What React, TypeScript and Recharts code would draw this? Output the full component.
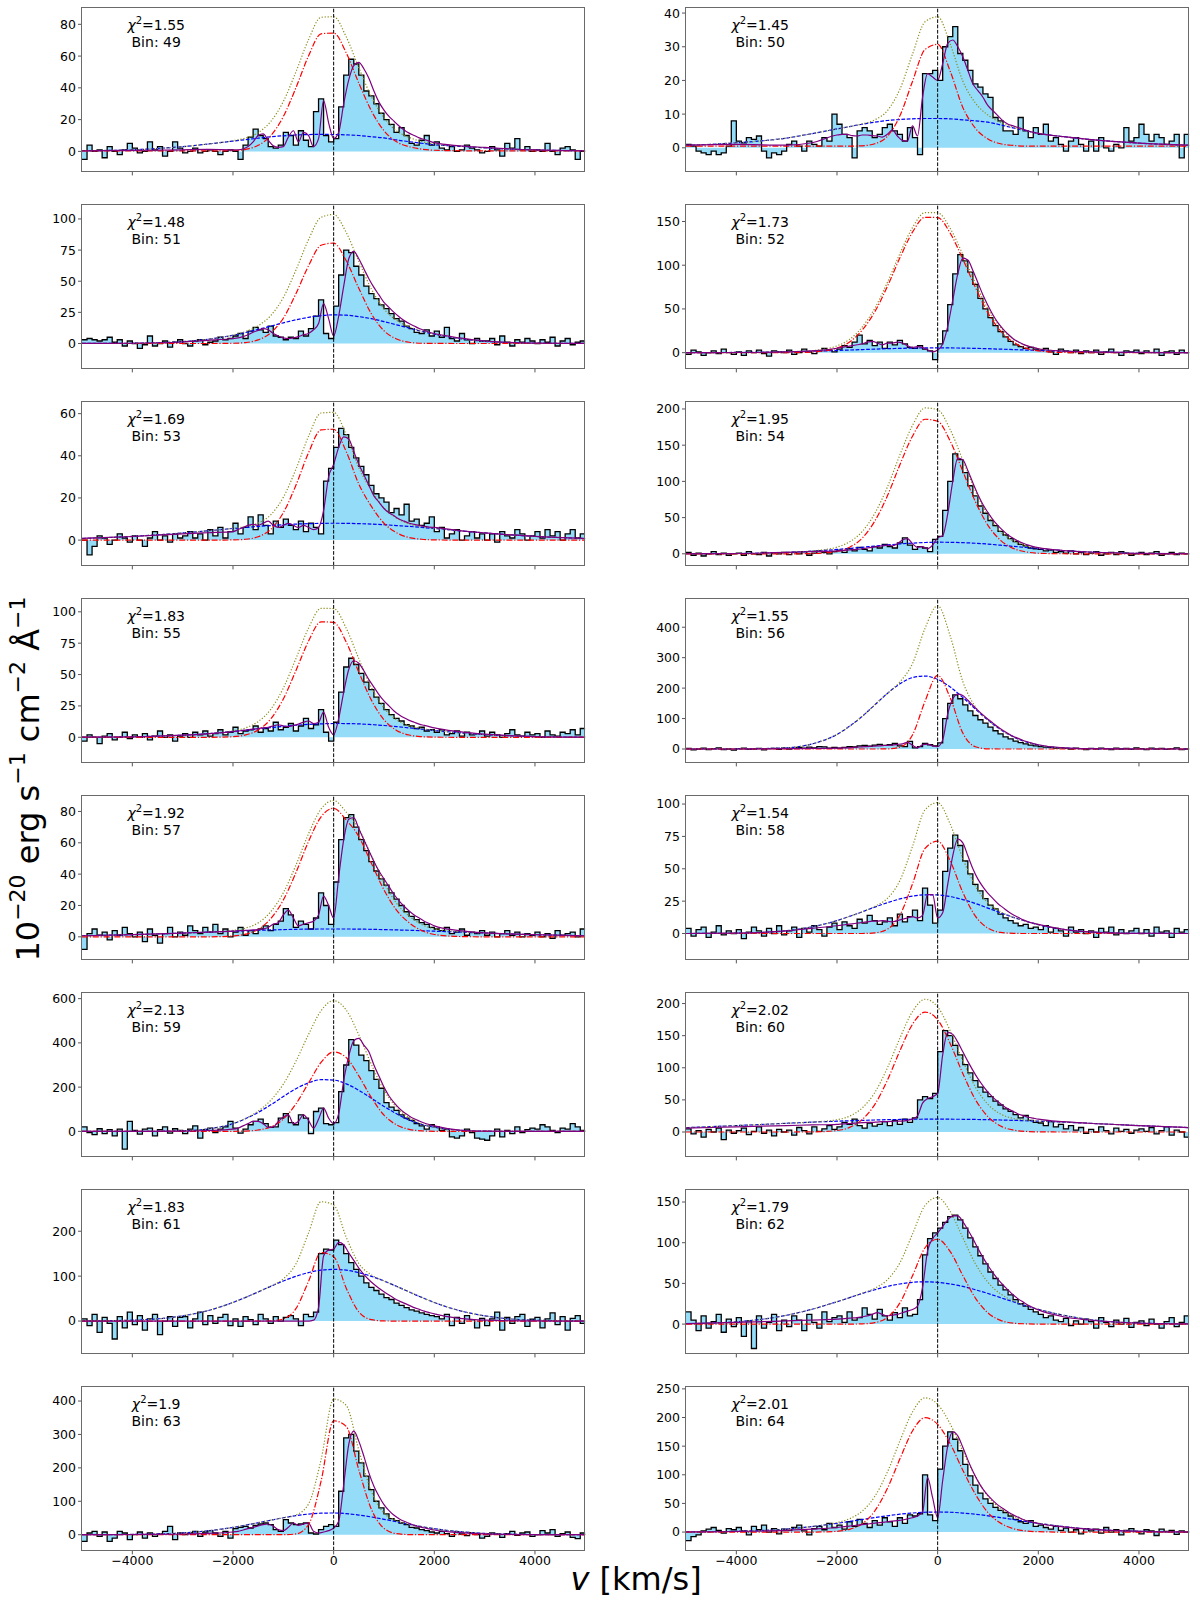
import React from 'react';
import { ComposedChart, Area, Line, XAxis, YAxis, ReferenceLine } from 'recharts';

const FONT = 'DejaVu Sans, sans-serif';
const X_TICKS = [-4000, -2000, 0, 2000, 4000];
const BIN_CENTERS = Array.from({ length: 100 }, (_, i) => -4950 + 100 * i);
const MODEL_V = [-5000, -4000, -3000, -2500, -2000, -1750, -1500, -1250, -1000, -750, -500, -250, 0, 250, 500, 750, 1000, 1250, 1500, 1750, 2000, 2500, 3000, 4000, 5000];
const FIT_V = [-5000, -4000, -3000, -2500, -2000, -1900, -1800, -1700, -1600, -1500, -1400, -1300, -1200, -1100, -1000, -900, -800, -700, -600, -500, -400, -300, -200, -100, 0, 100, 200, 300, 400, 500, 600, 700, 800, 900, 1000, 1100, 1200, 1300, 1400, 1500, 1600, 1700, 1800, 1900, 2000, 2500, 3000, 4000, 5000];

// ---------- Bin 49 ----------
const FLUX_49 = [-5,4,0,1,-4,3,0,-2,1,5, 2,-1,0,6,1,3,-3,0,6,2, -1,0,2,-1,0,1,0,-2,0,1, 0,-5,4,9,14,10,8,3,2,4, 12,10,4,13,7,3,25,33,10,6, 8,28,48,58,55,48,38,35,30,24, 20,17,12,15,10,5,4,7,10,4, 6,2,1,3,0,1,4,2,1,-1, 0,3,1,-3,5,2,8,1,3,0, 1,0,5,0,-2,2,3,1,-5,0];
const RED_49 = [0.3,0.3,0.3,0.3,0.5,1.3,3.8,9.9,21.9,40,60,74,74.5,62,43,25.5,13,6,3,1.4,0.7,0.4,0.3,0.3,0.3];
const BLUE_49 = [0.4,1,3,4.6,6.5,7.4,8.3,9.2,9.8,10.3,10.6,10.7,10.6,10.4,10,9.2,8.5,7.2,6.1,5.1,4.2,3.2,2.2,0.9,0.4];
const TOTAL_49 = [0.4,1,3,4.6,6.7,8.4,11.8,18.8,31.4,50,70.3,84.4,84.8,72.1,52.7,34.4,21.2,12.9,8.8,6.2,4.6,3.3,2.2,0.9,0.4];
const FIT_49 = [0.3,0.6,1,1.2, 1,1,1.5,3,6,10,11,7,3.5,2.5, 3,9,13,6,12,10,3,8,32,18, 8, 12,30,45,54,56,52,46,38,31,26, 22,19,16,13.5,11.5,10,8.5,7.5,6.5,5.5, 3.5,2.5,0.9,0.4];

// ---------- Bin 50 ----------
const FLUX_50 = [1,0.5,-1,-1.5,-2,-1,-2,-1.5,0.5,8, 2,1.5,3,2.5,3.5,-1,-3,-1.5,-2,-1, 1,2,0.5,-1,2,1,0.5,3,2,10, 7,4,3,-3,5,6,5,3,4,6, 7,5,4,2,6,3,-2,22,22,23, 20,30,33,36,28,26,23,19,18,16, 15,9,8,5,5,4,9,5,3,6, 4,7,2,3,1,-1,2,3,1,-1, 2,-1,3,0,-1,1,0,6,2,3, 7,4,2,4,3,1,2,4,-3,4];
const RED_50 = [0.5,0.5,0.5,0.5,0.5,0.5,0.6,1.2,3.4,9.5,19.7,29.2,30.7,22.7,12,5.8,2.6,1.2,0.7,0.5,0.5,0.5,0.5,0.5,0.5];
const BLUE_50 = [0.7,1.5,2.9,4.2,5.6,6.3,7,7.6,8.1,8.4,8.6,8.7,8.7,8.6,8.3,8,7.6,6.8,5.9,5.1,4.3,3.3,2.5,1.4,0.7];
const TOTAL_50 = [0.7,1.5,2.9,4.2,5.6,6.3,7.1,8.3,11,17.4,27.8,37.4,38.9,30.8,19.8,13.3,9.7,7.5,6.1,5.1,4.3,3.3,2.5,1.4,0.7];
const FIT_50 = [0.8,1,0.8,1.5, 3.8,4,4,3.6,3.5,3.8,3.8,3.6,3.5,3.2, 4,5.3,3.5,2.2,2,6.5,3.5,15,22,21, 20, 25,31,32,30,27,23,19,17,15,12.5, 11,9.5,8,7,6.5,6,5.5,5,4.6,4.3, 3.3,2.5,1.4,0.8];

// ---------- Bin 51 ----------
const FLUX_51 = [3,4,3,2,3,5,1,3,-2,2, 0,-4,-1,6,-2,0,2,-3,1,3, 0,-2,2,3,-1,1,2,5,3,4, 6,8,4,10,13,11,9,14,6,5, 3,5,4,10,6,12,22,35,8,4, 30,55,75,73,62,55,46,40,36,31, 28,24,20,18,14,12,9,8,11,6, 10,5,13,4,2,8,3,0,4,2, 2,4,-1,6,1,-2,3,1,4,2, 0,3,1,5,-2,2,4,-1,1,2];
const RED_51 = [0,0,0,0,0.2,0.75,2.9,8.5,20.3,39.9,62.3,78.9,80.6,66.4,44.3,23.8,10.2,3.6,1,0.2,0.05,0,0,0,0];
const BLUE_51 = [0.1,0.2,1.5,3.4,6.6,8.8,11.3,13.9,16.6,19,21,22.4,23,22.7,21.6,19.9,17.6,15,12.4,9.8,7.5,3.9,1.75,0.23,0.02];
const TOTAL_51 = [0.1,0.2,1.5,3.4,6.8,9.6,14.2,22.4,36.9,58.9,83.3,101.3,103.6,89.1,65.9,43.7,27.8,18.6,13.4,10,7.55,3.9,1.75,0.23,0.02];
const FIT_51 = [0.1,0.2,1.2,2.5, 4,4.5,5.5,7,9,10.5,12,11,8,6, 4.5,4,4.5,5.5,7,8,11,16,32,20, 6, 22,46,68,74,68,60,52,45,39,33, 29,25,21.5,18.5,16,14,12,10.5,9,8, 4.5,2,0.3,0.1];

// ---------- Bin 52 ----------
const FLUX_52 = [-2,3,1,-3,0,2,-1,4,0,-2, 1,-3,2,0,3,-1,-4,2,1,0, 3,-2,0,4,1,-1,2,5,3,1, 4,8,6,12,20,10,14,8,12,5, 12,9,14,10,6,5,8,4,2,-8, 10,25,55,90,112,105,92,78,62,50, 40,31,24,18,13,9,7,5,6,4, 3,5,1,-2,4,2,0,3,-1,2, 0,3,-2,1,4,0,-3,2,1,3, -1,2,0,4,-3,1,2,-2,3,0];
const RED_52 = [0,0,0.05,0.7,5.3,12.2,25.8,46.6,75.6,108.4,137.8,154.8,154.5,136.6,107,74.6,45.5,24.8,12.2,5.2,2,0.2,0,0,0];
const BLUE_52 = [0.05,0.24,0.95,1.6,2.5,3,3.5,4,4.5,4.9,5.2,5.4,5.5,5.4,5.2,4.9,4.5,4,3.5,3,2.5,1.6,0.95,0.24,0.05];
const TOTAL_52 = [0.05,0.24,1,2.3,7.8,15.2,29.3,50.6,80.1,113.3,143,160.2,160,142,112.2,79.5,50,28.8,15.7,8.2,4.5,1.8,0.95,0.24,0.05];
const FIT_52 = [0.05,0.2,0.9,2, 5,6,7,8,9,10,12,13,11,9, 11,11,12,11,8,6,7,6,3,1, 3, 10,30,60,90,108,106,94,80,66,54, 43,34,27,21,16,12.5,9.5,7.5,6,4.5, 1.8,0.95,0.24,0.05];

// ---------- Bin 53 ----------
const FLUX_53 = [0,-7,-3,2,1,-2,0,3,1,-1, 2,0,-3,1,4,0,2,-1,3,1, 2,4,1,3,0,5,2,6,1,4, 8,3,6,11,5,12,7,3,9,6, 10,7,5,9,4,8,6,3,28,34, 44,53,50,44,39,35,31,26,22,20, 18,13,15,12,17,9,10,7,8,11, 4,6,1,3,5,0,2,4,1,3, 0,3,-1,4,2,1,5,3,0,2, 4,1,5,2,4,0,3,5,1,3];
const RED_53 = [0,0,0,0,0.08,0.4,1.6,5.1,13,26,41.4,52.3,52.6,42,26.6,16,8,3.5,1.2,0.4,0.1,0,0,0,0];
const BLUE_53 = [0.76,1.76,3.4,4.4,5.5,6,6.5,6.9,7.3,7.6,7.8,7.95,8,7.95,7.8,7.6,7.3,6.9,6.5,6,5.5,4.4,3.4,1.76,0.76];
const TOTAL_53 = [0.76,1.76,3.4,4.4,5.6,6.4,8.1,12,20.3,33.6,49.2,60.3,60.6,50,34.4,23.6,15.3,10.4,7.7,6.4,5.6,4.4,3.4,1.76,0.76];
const FIT_53 = [0.8,1.7,3,3.5, 4,5,6,7,7.5,7,8,9,7,6, 7,8,7,6,7,6,5,6,14,30, 36, 44,49,48,42,36,31,26,21,18,15, 13,11.5,10,9,8,7.5,7,6.5,6.2,6, 4.5,3.4,1.76,0.76];

// ---------- Bin 54 ----------
const FLUX_54 = [2,-2,1,-3,0,3,-1,1,-2,0, 1,-2,3,0,-1,2,-3,1,0,2, -1,2,0,3,-2,1,4,2,0,3, 5,2,7,4,9,6,4,10,8,13, 10,8,15,22,12,6,10,8,3,20, 24,60,100,138,130,112,94,80,66,56, 46,39,31,26,21,17,13,11,8,7, 6,4,5,2,3,1,4,0,2,-1, 1,3,-2,0,2,-1,3,1,-2,0, 2,-1,1,3,-2,0,2,-1,1,0];
const RED_54 = [0,0,0,0.3,3.2,9,21.6,45,79.7,123,162.4,185.8,183,155.5,114,72,39.3,18.6,7.5,2.7,0.8,0.05,0,0,0];
const BLUE_54 = [0.05,0.4,1.9,3.6,6,7.5,9,10.7,12.3,13.6,14.8,15.6,16,15.9,15.4,14.6,13.4,11.9,10.3,8.7,7.1,4.4,2.5,0.54,0.07];
const TOTAL_54 = [0.05,0.4,1.9,3.9,9.2,16.5,30.6,55.7,92,136.6,177.2,201.4,199,171.4,129.4,86.6,52.7,30.5,17.8,11.4,7.9,4.45,2.5,0.54,0.07];
const FIT_54 = [0.1,0.4,1.9,3, 4,4.5,5,5.5,6,7,8,9,10,11, 12,11,14,19,21,14,9,10,7,12, 22, 25,55,100,132,130,115,98,82,68,57, 47,39,32,26,21.5,17.5,14.5,12,10,8.5, 4.5,2.5,0.54,0.07];

// ---------- Bin 55 ----------
const FLUX_55 = [-3,2,0,-5,1,3,-2,0,4,-1, 2,0,3,-2,1,5,0,2,-3,1, 3,0,4,2,5,1,3,6,2,4, 8,3,5,6,9,4,7,5,12,6, 8,11,5,9,15,7,10,22,4,-3, 12,36,56,63,58,51,44,38,32,27, 22,18,15,13,10,9,7,8,5,6, 4,6,2,3,5,1,4,2,3,5, 1,4,2,0,3,6,2,1,4,2, 3,0,5,2,1,4,3,6,2,7];
const RED_55 = [0,0,0,0,0.5,1.9,5.8,14.6,30.5,53.1,76.6,92,91.6,75.9,51.9,29.6,14,5.5,1.8,0.5,0.1,0,0,0,0];
const BLUE_55 = [0.07,0.41,1.67,2.9,4.7,5.6,6.7,7.7,8.7,9.6,10.3,10.7,11,10.95,10.7,10.1,9.4,8.5,7.5,6.5,5.4,3.6,2.1,0.56,0.1];
const TOTAL_55 = [0.07,0.41,1.67,2.9,5.2,7.5,12.5,22.3,39.2,62.7,86.9,102.7,102.6,86.9,62.6,39.7,23.4,14,9.3,7,5.5,3.6,2.1,0.56,0.1];
const FIT_55 = [0.1,0.4,1.7,2.8, 4.5,5,5.5,6,6.5,7,7.5,8,9,10, 9,8.5,9.5,10.5,12,13,11,12,20,8, 2, 15,36,54,61,59,53,46,40,34,29, 25,21,18,15.5,13.5,12,10.5,9.5,8.5,7.5, 4.5,2.5,0.6,0.1];

// ---------- Bin 56 ----------
const FLUX_56 = [2,-3,0,3,-2,1,4,-2,0,-4, 1,3,-1,0,2,-3,1,2,-1,3, 0,2,5,3,6,4,8,7,3,5, 3,5,8,7,10,12,9,13,15,12, 14,18,10,8,25,4,8,18,14,10, 20,100,150,178,165,145,125,110,96,85, 72,60,50,40,33,26,21,17,13,10, 8,6,5,3,4,2,0,3,1,-2, 2,0,3,1,-2,3,0,2,-1,4, 1,-2,3,0,2,-1,1,4,-2,0];
const RED_56 = [0,0,0,0,0,0,0,0,0.4,6.2,46,157,242,167.7,52.3,7.4,0.5,0,0,0,0,0,0,0,0];
const BLUE_56 = [0,0.1,4.1,16.3,47.9,74.6,107.2,144.8,182.4,214,234.5,239.7,228.7,203.5,169.3,131,94.7,63.7,40,23.7,12.8,3.2,0.6,0,0];
const TOTAL_56 = [0,0.1,4.1,16.3,47.9,74.6,107.2,144.8,182.8,220.2,280.5,396.7,470.7,371.2,221.6,138.4,95.2,63.7,40,23.7,12.8,3.2,0.6,0,0];
const FIT_56 = [0,0,1,2, 3,3.5,4,5,6,7,8,9,10,11, 12,13,15,17,22,12,4,14,16,10, 8, 30,115,165,180,176,160,143,127,112,98, 85,72,61,51,42,35,28,23,18,14, 4,1,0,0];

// ---------- Bin 57 ----------
const FLUX_57 = [-8,2,5,1,3,-2,4,1,6,2, 0,3,-3,5,1,-4,2,6,0,3, 1,7,4,2,6,3,8,2,5,0, 3,6,1,4,2,5,7,4,8,10, 18,14,6,10,8,5,12,28,20,8, 35,62,76,78,70,62,55,48,42,37, 33,28,24,20,16,13,11,9,8,6, 5,4,6,2,3,5,1,3,2,4, 1,3,0,2,4,1,3,0,2,1, 3,0,2,-1,4,1,2,3,0,5];
const RED_57 = [0,0,0,0,0.5,1.7,4.7,11.6,23.5,40.9,60.8,76.6,82,74.6,64,47,30,17,9,4,1.5,0.2,0,0,0];
const BLUE_57 = [0.68,1.4,2.4,3,3.6,3.9,4.2,4.4,4.6,4.8,4.9,5,5,5,4.9,4.8,4.6,4.4,4.2,3.9,3.6,3,2.4,1.4,0.68];
const TOTAL_57 = [0.68,1.4,2.4,3,4.1,5.6,8.9,16,28.1,45.7,65.7,81.6,87,79.6,68.9,51.8,34.6,21.4,13.2,7.9,5.1,3.2,2.4,1.4,0.68];
const FIT_57 = [0.7,1.4,2.4,3, 3.6,3.8,4,4.2,4.4,4.6,5,6,8,9, 14,17,12,7,8,9,10,14,26,20, 12, 38,62,75,76,69,62,55,48,42,37, 32,27,23,19.5,16.5,14,12,10,8.5,7, 4,2.5,1.4,0.7];

// ---------- Bin 58 ----------
const FLUX_58 = [4,-2,3,5,-3,1,6,-1,2,0, 3,-4,1,5,2,-2,4,0,6,-1, 2,5,-3,4,1,6,3,-2,5,8, 3,9,6,4,11,8,14,10,7,9, 12,6,15,9,13,18,10,35,22,8, 18,48,66,76,68,56,46,38,33,27, 22,19,15,12,10,8,6,7,4,5, 3,6,1,4,2,-2,5,1,3,0, 2,-3,4,1,5,-1,3,0,2,4, 0,3,-2,5,1,2,-3,4,1,3];
const RED_58 = [0,0,0,0,0,0,0,0.5,3.3,14.2,38.3,65.7,71.3,56,31.8,13.4,4.1,0.9,0.15,0,0,0,0,0,0];
const BLUE_58 = [0,0.26,2.2,5.1,10,13.2,16.7,20.4,23.8,26.7,28.9,29.9,29.8,28.5,26.2,23.2,19.6,16,12.5,9.5,6.8,3.2,1.3,0.12,0];
const TOTAL_58 = [0,0.26,2.2,5.1,10,13.2,16.7,20.9,27.1,40.9,67.2,95.6,101.1,84.5,58,36.6,23.7,16.9,12.65,9.5,6.8,3.2,1.3,0.12,0];
const FIT_58 = [0,0.3,2,4, 6,6.5,7,7.5,8,8.5,9,9.5,9.5,10, 9.5,9,10,11,12,13,12,14,30,30, 12, 16,38,60,73,70,60,50,42,36,31, 27,23,20,17,14.5,12.5,10.5,9,8,7, 3.2,1.3,0.1,0];

// ---------- Bin 59 ----------
const FLUX_59 = [20,-5,-15,12,-10,8,-20,10,-80,45, 5,-12,10,15,-20,8,20,-8,12,5, -10,10,25,-30,8,15,-5,10,20,45, 15,-8,10,30,45,55,35,18,20,60, 80,40,30,75,60,-10,90,105,35,30, 40,180,300,415,390,345,320,275,235,195, 130,110,95,75,60,50,35,25,10,30, 20,5,10,-25,-30,-20,10,-5,-30,-35, -40,-20,10,-25,5,-10,20,-5,8,15, 10,30,20,5,-5,15,10,35,20,5];
const RED_59 = [0,0,0,0,0.3,1.5,6.2,20.6,56,124,218.3,311.8,359,333.6,250.7,152.8,73.7,29.2,9.4,2.4,0.5,0,0,0,0];
const BLUE_59 = [0,0.06,2.6,11.1,35,57.3,85.8,120,157.5,192.8,219.5,233.7,232,215,185.7,150,113,79.7,51.7,31.8,18.3,4.8,1,0,0];
const TOTAL_59 = [0,0.06,2.6,11.1,35.3,58.8,92,140.6,213.5,316.8,437.8,545.5,591,548.6,436.4,302.8,186.7,108.9,61.1,34.2,18.8,4.8,1,0,0];
const FIT_59 = [0,0,1,4, 10,15,25,35,45,45,35,18,20,45, 65,75,35,45,75,50,15,55,105,60, 35, 80,230,340,410,420,390,360,300,250,200, 160,130,105,85,70,57,47,38,31,25, 6,1.2,0,0];

// ---------- Bin 60 ----------
const FLUX_60 = [5,-3,2,-8,4,0,6,-12,3,-2, 2,6,-4,1,8,-2,3,-6,4,0, 3,-5,7,2,-3,8,1,5,10,4, 8,15,12,20,10,6,14,9,12,16, 10,18,12,20,15,22,50,55,52,60, 125,158,150,135,120,105,92,80,70,62, 55,48,42,36,32,27,22,26,18,15, 14,10,16,8,12,5,10,3,7,-2, 4,0,8,2,-3,6,1,4,-2,3, 5,1,7,-3,2,8,-5,3,0,-8];
const RED_60 = [0,0,0,0.1,2.3,7.2,19.3,42.6,80.4,126.6,167.7,186.8,174.8,137.6,91,50.5,23.8,9.3,3.1,0.9,0.2,0,0,0,0];
const BLUE_60 = [6.8,10,13.6,15.3,16.8,17.5,18.1,18.7,19.2,19.5,19.8,19.9,20,19.9,19.8,19.5,19.2,18.7,18.1,17.5,16.8,15.3,13.6,10,6.8];
const TOTAL_60 = [6.8,10,13.6,15.4,19.1,24.7,37.4,61.3,99.6,146.1,187.5,206.7,194.8,157.5,110.8,70,43,28,21.2,18.4,17,15.3,13.6,10,6.8];
const FIT_60 = [6,8,10,11, 12,12.5,13,13.5,14,14.5,15,15,15.5,16, 16,16.5,17,17,18,20,25,45,52,55, 60, 120,155,152,140,125,110,96,83,72,62, 54,47,41,36,32,28,25.5,23,21.5,20, 16,13.6,10,6.8];

// ---------- Bin 61 ----------
const FLUX_61 = [5,-10,15,-25,8,-5,-40,10,-15,20, -8,12,-20,5,15,-30,0,10,-12,8, 10,-15,5,20,-8,12,-5,8,15,-10, 5,-12,10,3,-8,15,5,-5,10,0, 8,12,5,-10,15,10,20,150,160,158, 180,170,150,130,115,100,85,75,68,60, 52,48,40,35,30,25,22,18,15,12, 10,5,15,-10,8,-5,12,3,-15,6, -10,5,20,-20,8,-5,10,15,-12,4, 8,-15,5,18,-8,10,-20,6,12,-5];
const RED_61 = [0,0,0,0,0,0,0,0.4,4.7,27.6,88,152.5,143.4,73.3,20.3,3.2,0.2,0,0,0,0,0,0,0,0];
const BLUE_61 = [0.2,1.9,11.6,23.2,41.4,52.6,64.9,77.3,89.2,99.6,107.9,113.2,115,113.2,107.9,99.6,89.2,77.3,64.9,52.6,41.4,23.2,11.6,1.9,0.2];
const TOTAL_61 = [0.2,1.9,11.6,23.2,41.4,52.6,64.9,77.7,93.9,127.2,195.9,265.7,258.4,186.5,128.2,102.8,89.4,77.3,64.9,52.6,41.4,23.2,11.6,1.9,0.2];
const FIT_61 = [0,0,0,0, 0,0,0,0,0,0,0,0,0,0, 0,0,0,0,0,0,2,30,145,158, 160, 175,170,152,135,118,104,92,82,73,65, 58,51,45,40,35,30,26,22,19,16, 6,2,0.2,0];

// ---------- Bin 62 ----------
const FLUX_62 = [15,5,-8,10,-5,3,12,-10,6,-3, 8,-15,4,-30,10,-5,2,12,-8,5, -3,10,5,-8,12,2,-5,15,3,8, 10,2,15,5,8,20,12,6,18,10, 5,14,8,20,10,12,30,85,105,112, 118,125,132,134,128,118,106,95,84,74, 64,56,48,42,36,30,25,22,18,15, 12,8,10,5,3,7,-2,4,0,6, 3,-5,8,2,-3,5,0,7,-4,2, 4,-2,6,0,-5,3,8,-3,2,10];
const RED_62 = [0,0,0,0,0,0,0.3,1.8,8.2,26,59.3,93.8,104.3,89,59.8,32,13.7,4.6,1.2,0.3,0,0,0,0,0];
const BLUE_62 = [0.5,2.8,10.9,18.2,27.5,32.5,37.6,42.2,46.3,49.3,51.3,52,51.3,49.3,46.3,42.2,37.6,32.5,27.5,22.6,18.2,10.9,5.8,1.2,0.2];
const TOTAL_62 = [0.5,2.8,10.9,18.2,27.5,32.5,37.9,44,54.5,75.3,110.6,145.8,155.6,138.3,106.1,74.2,51.3,37.1,28.7,22.9,18.2,10.9,5.8,1.2,0.2];
const FIT_62 = [0.5,2,4,5, 6,6.5,7,7.5,8,9,10,12,14,12, 10,11,12,14,16,18,22,45,90,105, 112, 120,128,133,133,126,116,105,93,82,72, 63,55,48,42,36,31,27,23,20,17.5, 9,5,1.2,0.2];

// ---------- Bin 63 ----------
const FLUX_63 = [-20,5,10,-5,8,-20,-10,10,5,-15, 0,8,-10,5,-5,2,10,25,-15,5, 0,5,10,-5,8,12,5,-5,10,-10, 18,22,25,20,28,32,35,30,15,10, 45,35,30,32,35,5,2,15,25,30, 25,130,290,300,250,215,175,135,100,80, 62,48,42,35,30,22,20,15,12,8, 5,10,3,-5,8,2,-3,6,0,-10, -5,5,2,-8,3,10,-2,5,8,-5, 0,12,5,15,-5,3,8,-8,-12,5];
const RED_63 = [0,0,0,0,0,0,0,0,0,2.2,29.8,160,341,324,194,76,19,3.1,0.3,0,0,0,0,0,0];
const BLUE_63 = [0.05,0.7,5.2,11.5,21.7,28.6,35.9,43.4,50.6,56.9,61.7,64.4,64.9,63,58.8,53,46,38.6,30.9,24.1,18,9.2,3.9,0.45,0.03];
const TOTAL_63 = [0.05,0.7,5.2,11.5,21.7,28.6,35.9,43.4,50.6,59.1,91.5,224.4,405.9,387,252.8,129,65,41.7,31.2,24.1,18,9.2,3.9,0.45,0.03];
const FIT_63 = [0,0.5,2,4, 8,10,14,18,22,26,30,32,25,15, 12,22,35,28,32,35,10,5,8,12, 20, 40,150,270,310,280,235,185,145,115,90, 72,58,48,40,34,28,24,20,17,14, 6,2.5,0.4,0];

// ---------- Bin 64 ----------
const FLUX_64 = [-15,-8,-5,2,5,8,3,-2,6,4, 8,2,-5,10,4,12,0,6,-3,5, 3,8,12,2,-5,6,10,4,15,8, 12,5,18,10,22,15,8,20,12,25, 18,10,25,15,30,28,32,100,30,20, 110,150,175,162,142,118,98,82,68,58, 50,43,38,34,28,22,18,15,20,10, 12,8,5,10,3,7,0,4,-3,6, 2,5,-2,8,0,4,-5,3,6,1, -3,4,2,-6,5,1,3,-4,2,0];
const RED_64 = [0,0,0,0,1.3,4.8,14.6,36.8,76,127.8,176.5,199.7,188,154,108,66,34,15.6,6,2,0.6,0,0,0,0];
const BLUE_64 = [0.2,1.3,5.3,9.6,15.2,18.5,21.9,25.3,28.4,31.2,33.2,34.6,35,34.6,33.2,31.2,28.4,25.3,21.9,18.5,15.2,9.6,5.3,1.3,0.2];
const TOTAL_64 = [0.2,1.3,5.3,9.6,16.5,23.3,36.5,62.1,104.4,159,209.7,234.3,223,188.6,141.2,97.2,62.4,40.9,27.9,20.5,15.8,9.6,5.3,1.3,0.2];
const FIT_64 = [0.2,1,3,5, 8,9,10,11,12,13,14,15,16,17, 18,19,20,21,23,25,28,35,95,60, 25, 90,150,175,168,148,126,106,89,75,64, 55,47,41,35,30,26,22,19,17,15, 9,5,1.3,0.2];

const BINS = [49, 50, 51, 52, 53, 54, 55, 56, 57, 58, 59, 60, 61, 62, 63, 64];
const CHI2 = ['1.55', '1.45', '1.48', '1.73', '1.69', '1.95', '1.83', '1.55', '1.92', '1.54', '2.13', '2.02', '1.83', '1.79', '1.9', '2.01'];
const Y_DOMAINS = [
  [-12.6, 90.9], [-7, 41.8], [-20, 112], [-18, 170], [-12, 66], [-16, 211], [-20, 111], [-44, 496],
  [-14.4, 90.5], [-20, 107], [-113, 630], [-38, 218], [-72, 294], [-36, 166], [-47, 445], [-32, 255],
];
const Y_TICKS = [
  [0, 20, 40, 60, 80], [0, 10, 20, 30, 40], [0, 25, 50, 75, 100], [0, 50, 100, 150],
  [0, 20, 40, 60], [0, 50, 100, 150, 200], [0, 25, 50, 75, 100], [0, 100, 200, 300, 400],
  [0, 20, 40, 60, 80], [0, 25, 50, 75, 100], [0, 200, 400, 600], [0, 50, 100, 150, 200],
  [0, 100, 200], [0, 50, 100, 150], [0, 100, 200, 300, 400], [0, 50, 100, 150, 200, 250],
];
const FLUXES = [FLUX_49, FLUX_50, FLUX_51, FLUX_52, FLUX_53, FLUX_54, FLUX_55, FLUX_56, FLUX_57, FLUX_58, FLUX_59, FLUX_60, FLUX_61, FLUX_62, FLUX_63, FLUX_64];
const REDS = [RED_49, RED_50, RED_51, RED_52, RED_53, RED_54, RED_55, RED_56, RED_57, RED_58, RED_59, RED_60, RED_61, RED_62, RED_63, RED_64];
const BLUES = [BLUE_49, BLUE_50, BLUE_51, BLUE_52, BLUE_53, BLUE_54, BLUE_55, BLUE_56, BLUE_57, BLUE_58, BLUE_59, BLUE_60, BLUE_61, BLUE_62, BLUE_63, BLUE_64];
const TOTALS = [TOTAL_49, TOTAL_50, TOTAL_51, TOTAL_52, TOTAL_53, TOTAL_54, TOTAL_55, TOTAL_56, TOTAL_57, TOTAL_58, TOTAL_59, TOTAL_60, TOTAL_61, TOTAL_62, TOTAL_63, TOTAL_64];
const FITS = [FIT_49, FIT_50, FIT_51, FIT_52, FIT_53, FIT_54, FIT_55, FIT_56, FIT_57, FIT_58, FIT_59, FIT_60, FIT_61, FIT_62, FIT_63, FIT_64];

// ---------- layout ----------
const PLOT_W = 503.3;
const PLOT_H = 164.4;
const Y_AXIS_W = 60;
const M_TOP = 5;
const M_RIGHT = 10;
const X_AXIS_H = 30;
const COL_LEFT = [81.7, 685.7];
const ROW_TOP0 = 7.3;
const ROW_PITCH = 197;

const fmt = (v: number) => (v < 0 ? '\u2212' + Math.abs(v) : String(v));
const toPts = (xs: number[], ys: number[]) => xs.map((v, i) => ({ v, y: ys[i] }));
const fluxPts = (f: number[]) => [
  { v: -5000, y: f[0] },
  ...BIN_CENTERS.map((v, i) => ({ v, y: f[i] })),
  { v: 5000, y: f[f.length - 1] },
];

const EmptyTick = () => <g />;

function Panel({ idx }: { idx: number }) {
  const row = Math.floor(idx / 2);
  const col = idx % 2;
  const frameLeft = COL_LEFT[col];
  const frameTop = ROW_TOP0 + row * ROW_PITCH;
  const isBottom = row === 7;
  const dom = Y_DOMAINS[idx];
  const tickStyle = { fill: '#000', fontSize: 12.5, fontFamily: FONT };
  return (
    <>
      <div style={{ position: 'absolute', left: frameLeft - Y_AXIS_W, top: frameTop - M_TOP }}>
        <ComposedChart
          width={Y_AXIS_W + PLOT_W + M_RIGHT}
          height={M_TOP + PLOT_H + X_AXIS_H}
          margin={{ top: M_TOP, right: M_RIGHT, bottom: 0, left: 0 }}
        >
          <XAxis
            dataKey="v"
            type="number"
            domain={[-5000, 5000]}
            ticks={X_TICKS}
            allowDataOverflow
            axisLine={false}
            tickLine={{ stroke: '#555', strokeWidth: 1 }}
            tickSize={4}
            tickMargin={2}
            height={X_AXIS_H}
            tick={isBottom ? tickStyle : EmptyTick}
            tickFormatter={fmt}
            interval={0}
          />
          <YAxis
            type="number"
            domain={dom}
            ticks={Y_TICKS[idx]}
            allowDataOverflow
            axisLine={false}
            tickLine={{ stroke: '#555', strokeWidth: 1 }}
            tickSize={4}
            tickMargin={2}
            width={Y_AXIS_W}
            tick={tickStyle}
            tickFormatter={fmt}
            interval={0}
          />
          <Area
            data={fluxPts(FLUXES[idx])}
            dataKey="y"
            type="step"
            baseValue={0}
            stroke="#000"
            strokeWidth={1.3}
            fill="#94dcf7"
            fillOpacity={1}
            dot={false}
            activeDot={false}
            isAnimationActive={false}
          />
          <Line data={toPts(MODEL_V, BLUES[idx])} dataKey="y" type="monotone" stroke="#0000ff" strokeWidth={1.2} strokeDasharray="3.7 1.6" dot={false} activeDot={false} isAnimationActive={false} />
          <Line data={toPts(MODEL_V, REDS[idx])} dataKey="y" type="monotone" stroke="#ff0000" strokeWidth={1.2} strokeDasharray="6 1.8 1.2 1.8" dot={false} activeDot={false} isAnimationActive={false} />
          <Line data={toPts(MODEL_V, TOTALS[idx])} dataKey="y" type="monotone" stroke="#8c8c1e" strokeWidth={1.2} strokeDasharray="1.2 1.8" dot={false} activeDot={false} isAnimationActive={false} />
          <Line data={toPts(FIT_V, FITS[idx])} dataKey="y" type="monotone" stroke="#800080" strokeWidth={1.2} dot={false} activeDot={false} isAnimationActive={false} />
          <ReferenceLine x={0} stroke="#000" strokeWidth={1} strokeDasharray="3.7 1.6" />
        </ComposedChart>
      </div>
      <div
        style={{
          position: 'absolute',
          left: frameLeft - 0.5,
          top: frameTop - 0.5,
          width: PLOT_W + 1,
          height: PLOT_H + 1,
          border: '1px solid #6a6a6a',
          boxSizing: 'border-box',
          pointerEvents: 'none',
        }}
      />
    </>
  );
}

export default function App() {
  return (
    <div style={{ position: 'absolute', left: 0, top: 0, width: 1200, height: 1602, background: '#fff', fontFamily: FONT }}>
      {BINS.map((_, i) => (
        <Panel key={i} idx={i} />
      ))}
      <svg width={1200} height={1602} style={{ position: 'absolute', left: 0, top: 0, pointerEvents: 'none' }}>
        {BINS.map((b, i) => {
          const row = Math.floor(i / 2);
          const col = i % 2;
          const cx = COL_LEFT[col] + 74.5;
          const top = ROW_TOP0 + row * ROW_PITCH;
          return (
            <g key={b} fontFamily={FONT} fill="#000">
              <text x={cx} y={top + 23} textAnchor="middle" fontSize={14}>
                <tspan fontStyle="italic">χ</tspan>
                <tspan fontSize={10} dy={-6}>2</tspan>
                <tspan dy={6}>{'=' + CHI2[i]}</tspan>
              </text>
              <text x={cx} y={top + 39.5} textAnchor="middle" fontSize={14}>
                {'Bin: ' + b}
              </text>
            </g>
          );
        })}
        <text transform="translate(39,779) rotate(-90)" textAnchor="middle" fontSize={32} fontFamily={FONT} fill="#000">
          <tspan>10</tspan>
          <tspan fontSize={22} dy={-14}>{'\u221220'}</tspan>
          <tspan dy={14}>{' erg'}</tspan>
          <tspan>{' s'}</tspan>
          <tspan fontSize={22} dy={-14}>{'\u22121'}</tspan>
          <tspan dy={14}>{' cm'}</tspan>
          <tspan fontSize={22} dy={-14}>{'\u22122'}</tspan>
          <tspan dy={14}>{' \u00c5'}</tspan>
          <tspan fontSize={22} dy={-14}>{'\u22121'}</tspan>
        </text>
        <text x={636} y={1590} textAnchor="middle" fontSize={32} fontFamily={FONT} fill="#000">
          <tspan fontStyle="italic">v</tspan>
          <tspan>{' [km/s]'}</tspan>
        </text>
      </svg>
    </div>
  );
}
